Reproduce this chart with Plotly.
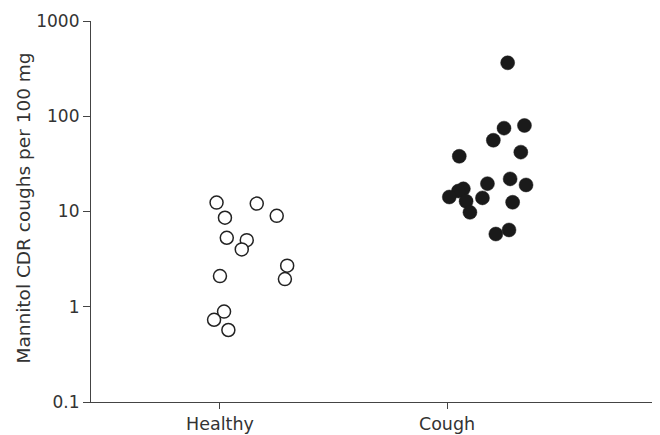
import plotly.graph_objects as go

categories = ["Healthy", "Cough"]

healthy_values = [12.4, 8.6, 12.1, 9.0, 5.3, 5.0, 4.0, 2.1, 2.7, 1.95, 0.89, 0.73, 0.57]
healthy_jitter = [-0.015, 0.022, 0.162, 0.250, 0.030, 0.118, 0.096, 0.0, 0.296, 0.286, 0.018, -0.026, 0.037]

cough_values = [364, 75, 80, 56, 42, 38, 22, 19, 19.6, 17.3, 16.4, 14.2, 12.8, 13.9, 12.5, 9.8, 5.8, 6.4]
cough_jitter = [0.267, 0.251, 0.341, 0.204, 0.325, 0.054, 0.278, 0.348, 0.178, 0.072, 0.050, 0.010, 0.084, 0.156, 0.289, 0.101, 0.215, 0.273]

y_tickvals = [0.1, 1, 10, 100, 1000]
y_ticktext = ["0.1", "1", "10", "100", "1000"]

FONT = "DejaVu Sans"
TXT = "#333333"
AX = "#444444"

fig = go.Figure()
fig.add_trace(go.Scatter(
    x=[1 + j for j in healthy_jitter], y=healthy_values, mode="markers",
    marker=dict(size=13, color="white", line=dict(color="#222222", width=1.5)),
    showlegend=False, cliponaxis=False))
fig.add_trace(go.Scatter(
    x=[2 + j for j in cough_jitter], y=cough_values, mode="markers",
    marker=dict(size=14, color="#1a1a1a", line=dict(color="#1a1a1a", width=0.5)),
    showlegend=False, cliponaxis=False))

fig.update_layout(
    width=652, height=427,
    margin=dict(l=83, r=0, t=13, b=33, autoexpand=False),
    paper_bgcolor="white", plot_bgcolor="white",
    font=dict(family=FONT, size=17, color=TXT),
    xaxis=dict(range=[0.432, 2.938], tickvals=[1, 2], ticktext=categories,
               showline=True, linecolor=AX, linewidth=1.2, ticks="outside",
               ticklen=6, tickcolor=AX, showgrid=False, zeroline=False,
               automargin=False, tickfont=dict(size=17.5, color=TXT)),
    yaxis=dict(type="log", range=[-1, 3], tickvals=y_tickvals, ticktext=y_ticktext,
               showline=True, linecolor=AX, linewidth=1.2, ticks="outside",
               ticklen=7, tickcolor=AX, showgrid=False, zeroline=False,
               automargin=False, tickfont=dict(size=17, color=TXT)),
    annotations=[dict(text="Mannitol CDR coughs per 100 mg", textangle=-90,
                      xref="paper", yref="paper", x=-0.118, y=0.51,
                      xanchor="center", yanchor="middle", showarrow=False,
                      font=dict(size=18.5, color=TXT))],
)

fig.write_html("out.html")
